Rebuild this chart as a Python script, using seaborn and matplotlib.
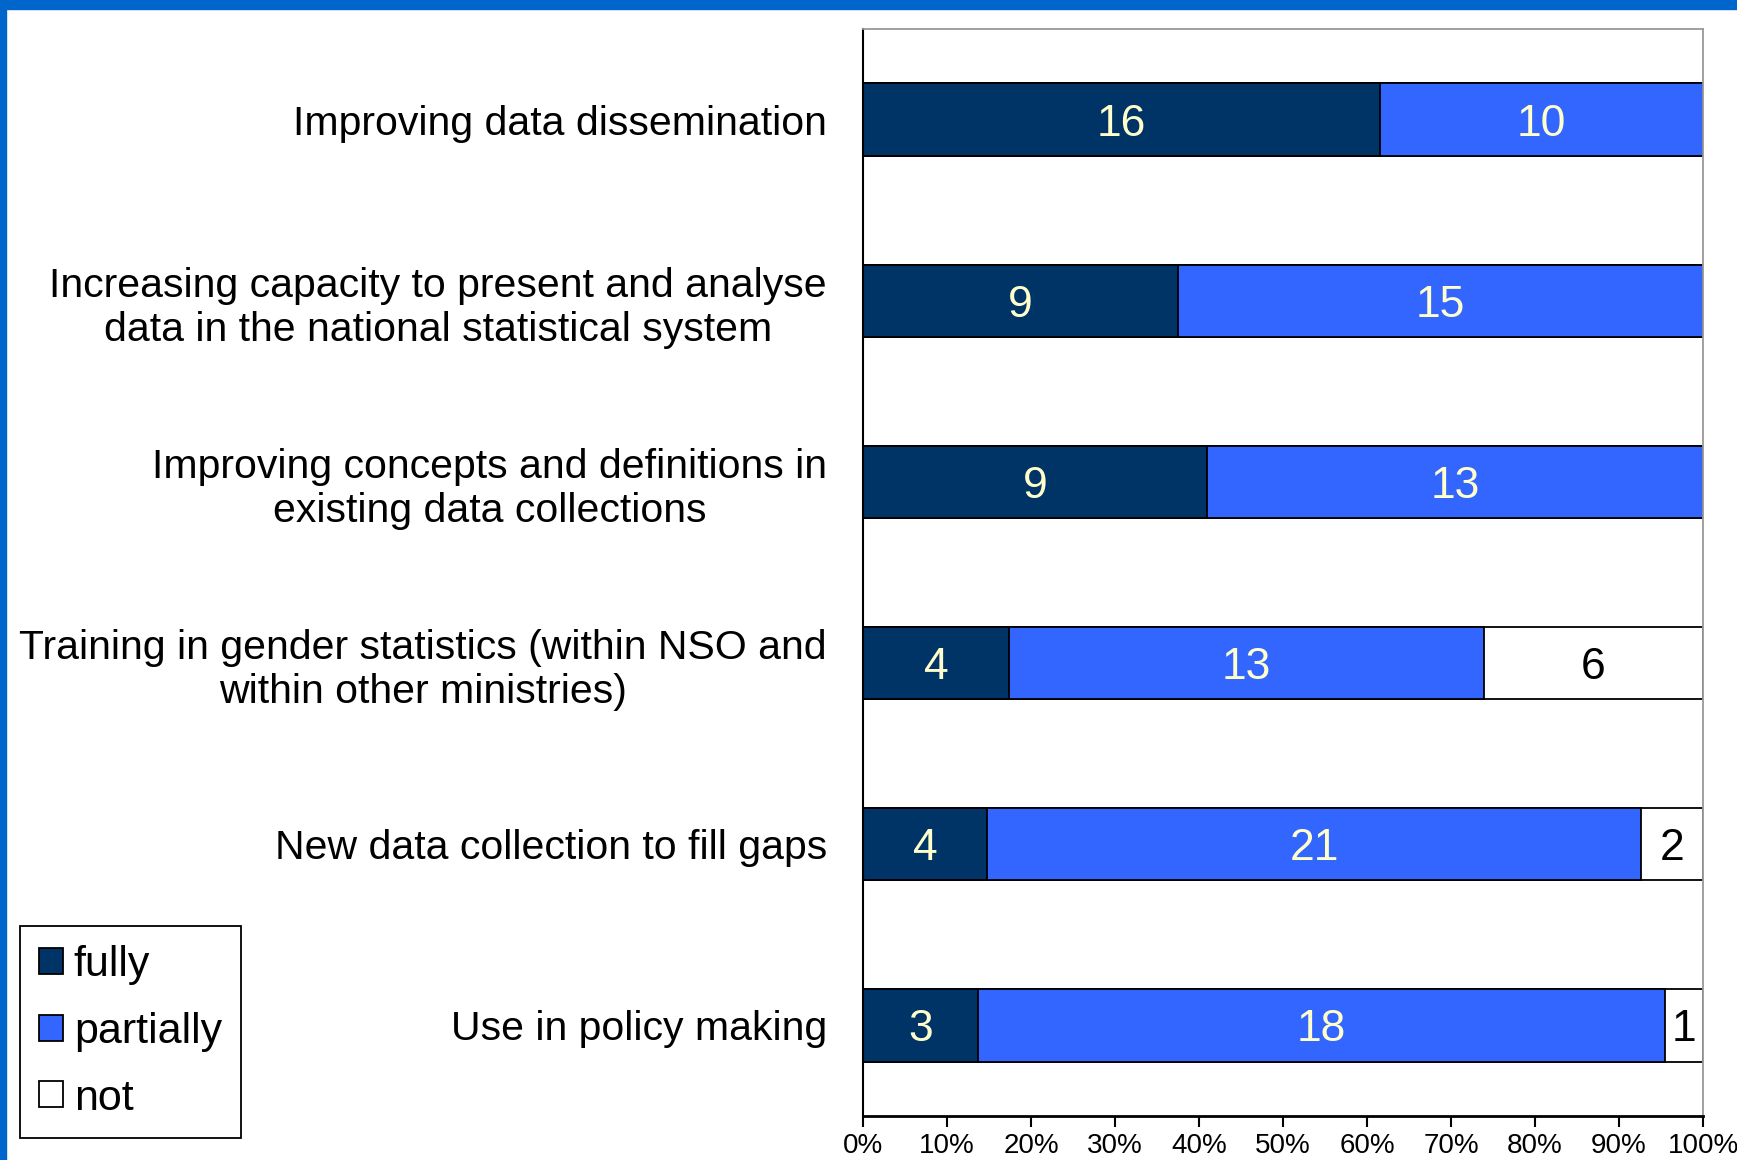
import matplotlib
matplotlib.use("Agg")
import matplotlib.pyplot as plt
import pandas as pd
import seaborn as sns
from matplotlib import font_manager
from matplotlib.patches import Patch, Rectangle

NAVY = "#003366"
BLUE = "#3366FF"
WHITE = "#FFFFFF"
BORDER = "#0066CC"
LABEL_LIGHT = "#FFFFCC"

categories = [
    "Improving data dissemination",
    "Increasing capacity to present and analyse\ndata in the national statistical system",
    "Improving concepts and definitions in\nexisting data collections",
    "Training in gender statistics (within NSO and\nwithin other ministries)",
    "New data collection to fill gaps",
    "Use in policy making",
]
fully = [16, 9, 9, 4, 4, 3]
partially = [10, 15, 13, 13, 21, 18]
not_done = [0, 0, 0, 6, 2, 1]
series_names = ["fully", "partially", "not"]
x_ticks = list(range(0, 101, 10))

sns.set_style("white")
installed = {f.name for f in font_manager.fontManager.ttflist}
narrow = "Liberation Sans Narrow" if "Liberation Sans Narrow" in installed else "Liberation Sans"
plt.rcParams["font.family"] = ["Liberation Sans", "DejaVu Sans"]
plt.rcParams["text.color"] = "black"
plt.rcParams["xtick.color"] = "black"
plt.rcParams["ytick.color"] = "black"

df = pd.DataFrame({"category": categories, "fully": fully,
                   "partially": partially, "not": not_done})
total = df[["fully", "partially", "not"]].sum(axis=1)
df["p_fully"] = df["fully"] / total * 100
df["p_partially"] = df["partially"] / total * 100
df["p_not"] = df["not"] / total * 100
df["cum_partially"] = df["p_fully"] + df["p_partially"]
df["cum_not"] = df["cum_partially"] + df["p_not"]

fig = plt.figure(figsize=(17.37, 11.60), dpi=100)
ax = fig.add_axes([863 / 1737, 1 - 1116 / 1160, 840 / 1737, 1087 / 1160])

# layered bars: longest first so the shorter ones sit on top
for col, color in [("cum_not", WHITE), ("cum_partially", BLUE), ("p_fully", NAVY)]:
    sns.barplot(data=df, x=col, y="category", orient="h", color=color,
                width=0.4, edgecolor="black", linewidth=1.3, ax=ax,
                saturation=1)

# segment labels at segment centers
for i, row in df.iterrows():
    starts = [0, row["p_fully"], row["cum_partially"]]
    widths = [row["p_fully"], row["p_partially"], row["p_not"]]
    counts = [row["fully"], row["partially"], row["not"]]
    colors = [LABEL_LIGHT, LABEL_LIGHT, "black"]
    for s, w, c, tc in zip(starts, widths, counts, colors):
        if c > 0:
            ax.text(s + w / 2, i, str(c), ha="center", va="center_baseline",
                    fontsize=32, color=tc)

ax.set_xlim(0, 100)
ax.set_ylim(5.5, -0.5)
ax.set_xticks(x_ticks)
ax.set_xticklabels([f"{v}%" for v in x_ticks], fontsize=20, family=narrow)
ax.set_yticks(range(len(categories)))
ax.set_yticklabels(categories, fontsize=29.5, multialignment="center")
ax.set_xlabel("")
ax.set_ylabel("")
ax.tick_params(axis="y", length=0, pad=26)
ax.tick_params(axis="x", direction="out", length=8, width=1.5,
               color="black", pad=4, bottom=True)

ax.spines["left"].set_color("black")
ax.spines["left"].set_linewidth(1.5)
ax.spines["bottom"].set_color("black")
ax.spines["bottom"].set_linewidth(2)
for side in ["top", "right"]:
    ax.spines[side].set_color("#999999")
    ax.spines[side].set_linewidth(1.3)

handles = [Patch(facecolor=c, edgecolor="black", linewidth=1.3)
           for c in [NAVY, BLUE, WHITE]]
leg = fig.legend(handles, series_names, loc="lower left",
                 bbox_to_anchor=(20 / 1737, 1 - 1138 / 1160),
                 borderaxespad=0, fontsize=31, frameon=True, fancybox=False,
                 framealpha=1, edgecolor="black", handlelength=0.55,
                 handleheight=0.55, handletextpad=0.25, labelspacing=0.62,
                 borderpad=0.45)
leg.get_frame().set_linewidth(1.3)

# slide border
fig.add_artist(Rectangle((0, 1 - 9 / 1160), 1, 9 / 1160,
                         transform=fig.transFigure, color=BORDER, zorder=10))
fig.add_artist(Rectangle((0, 0), 6 / 1737, 1,
                         transform=fig.transFigure, color=BORDER, zorder=10))

fig.savefig("out.png", dpi=100)
